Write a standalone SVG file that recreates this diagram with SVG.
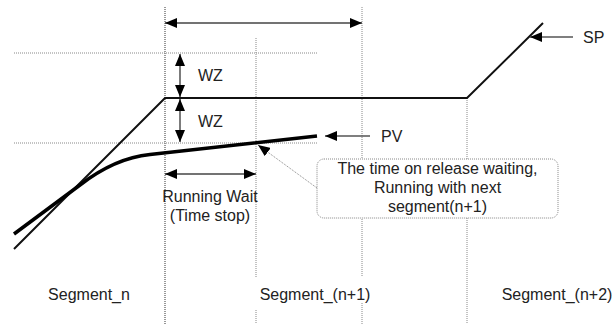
<svg xmlns="http://www.w3.org/2000/svg" width="616" height="324" viewBox="0 0 616 324">
  <style>
    .txt { font-family: "Liberation Sans", Arial, sans-serif; font-size: 16px; fill: #222; }
    .mid { text-anchor: middle; }
    .grid { stroke: #888; stroke-width: 1; stroke-dasharray: 1 1; fill: none; }
    .grid-dark { stroke: #333; stroke-width: 1; stroke-dasharray: 1 1; fill: none; }
    .dim { stroke: #444; stroke-width: 1.4; fill: none; }
    .sp { stroke: #111; stroke-width: 2; fill: none; }
    .pv { stroke: #000; stroke-width: 3.5; fill: none; stroke-linejoin: round; }
    .lead { stroke: #555; stroke-width: 1.4; fill: none; }
  </style>
  <defs>
    <marker id="head" viewBox="0 0 12 10" refX="12" refY="5" markerWidth="12" markerHeight="10" markerUnits="userSpaceOnUse" orient="auto-start-reverse">
      <path d="M0,0 L12,5 L0,10 Z" fill="#000"/>
    </marker>
  </defs>

  <!-- reference grid: segment boundaries and WZ band -->
  <g id="grid">
    <line class="grid-dark" x1="165" y1="7" x2="165" y2="324"/>
    <line class="grid" x1="256" y1="38" x2="256" y2="277"/>
    <line class="grid" x1="256" y1="310" x2="256" y2="324"/>
    <line class="grid" x1="362" y1="7" x2="362" y2="277"/>
    <line class="grid" x1="362" y1="303" x2="362" y2="324"/>
    <line class="grid" x1="467" y1="98" x2="467" y2="324"/>
    <line class="grid" x1="14" y1="53" x2="317" y2="53"/>
    <line class="grid" x1="14" y1="143" x2="317" y2="143"/>
  </g>

  <!-- set point profile -->
  <g id="sp-curve">
    <polyline class="sp" points="14,249 165,98 467,98 543,23"/>
  </g>

  <!-- process value -->
  <g id="pv-curve">
    <path class="pv" d="M14,234 L80,185 Q115,158 150,154.5 L317,136"/>
  </g>

  <!-- connectors: dimension arrows and leaders -->
  <g id="connectors">
    <line class="dim" x1="165" y1="23" x2="362" y2="23" marker-start="url(#head)" marker-end="url(#head)"/>
    <line class="dim" x1="180" y1="54" x2="180" y2="97" marker-start="url(#head)" marker-end="url(#head)"/>
    <line class="dim" x1="180" y1="99" x2="180" y2="142" marker-start="url(#head)" marker-end="url(#head)"/>
    <line class="dim" x1="165" y1="174" x2="256" y2="174" marker-start="url(#head)" marker-end="url(#head)"/>
    <line class="lead" x1="370" y1="136" x2="325" y2="136" marker-end="url(#head)"/>
    <line class="lead" x1="573" y1="37" x2="530" y2="37" marker-end="url(#head)"/>
    <line class="grid" x1="317" y1="188" x2="258" y2="145" marker-end="url(#head)"/>
  </g>

  <!-- labels -->
  <g id="wz-upper"><text class="txt" x="198" y="81">WZ</text></g>
  <g id="wz-lower"><text class="txt" x="198" y="127">WZ</text></g>
  <g id="pv-label"><text class="txt" x="381" y="142">PV</text></g>
  <g id="sp-label"><text class="txt" x="583" y="43">SP</text></g>

  <g id="running-wait">
    <text class="txt mid" x="210" y="202">Running Wait</text>
    <text class="txt mid" x="210" y="221">(Time stop)</text>
  </g>

  <g id="release-note">
    <rect x="317" y="159" width="241" height="59" rx="7" ry="7" fill="#fff" stroke="#888" stroke-width="1" stroke-dasharray="1 1"/>
    <text class="txt mid" x="437.5" y="174">The time on release waiting,</text>
    <text class="txt mid" x="437.5" y="193">Running with next</text>
    <text class="txt mid" x="437.5" y="212">segment(n+1)</text>
  </g>

  <g id="segment-n"><text class="txt mid" x="89" y="300">Segment_n</text></g>
  <g id="segment-n1"><text class="txt mid" x="315" y="300">Segment_(n+1)</text></g>
  <g id="segment-n2"><text class="txt mid" x="557" y="300">Segment_(n+2)</text></g>
</svg>
